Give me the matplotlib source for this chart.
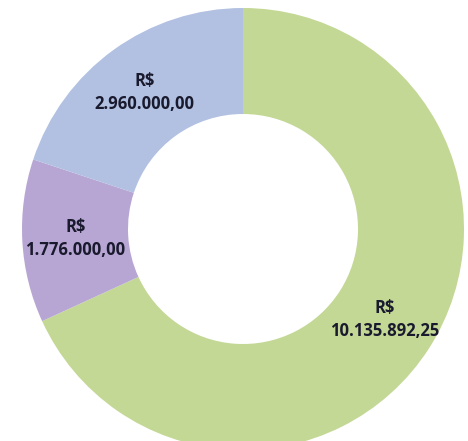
import matplotlib.pyplot as plt

# Valores por categoria (R$)
valores = [10135892.25, 1776000.00, 2960000.00]
rotulos = ["R$\n10.135.892,25", "R$\n1.776.000,00", "R$\n2.960.000,00"]
cores = ["#C4D896", "#B7A6D3", "#B2C1E2"]

fig = plt.figure(figsize=(4.68, 4.41), dpi=100)
ax = fig.add_axes([0, 0, 1, 1])

# eixo em pixels, centro e raio do anel
cx, cy, raio = 243, 441 - 229, 221
wedges, textos = ax.pie(
    valores,
    labels=rotulos,
    colors=cores,
    startangle=90,
    counterclock=False,
    center=(cx, cy),
    radius=raio,
    labeldistance=0.76,
    wedgeprops=dict(width=raio - 115, linewidth=0),
    textprops=dict(fontsize=12, fontweight="bold", color="#1a1a2e",
                   family="Open Sans", ha="center", va="center",
                   linespacing=1.35),
)

ax.set_xlim(0, 468)
ax.set_ylim(0, 441)
ax.set_aspect("equal")
ax.axis("off")

fig.savefig("out.png", dpi=100)
